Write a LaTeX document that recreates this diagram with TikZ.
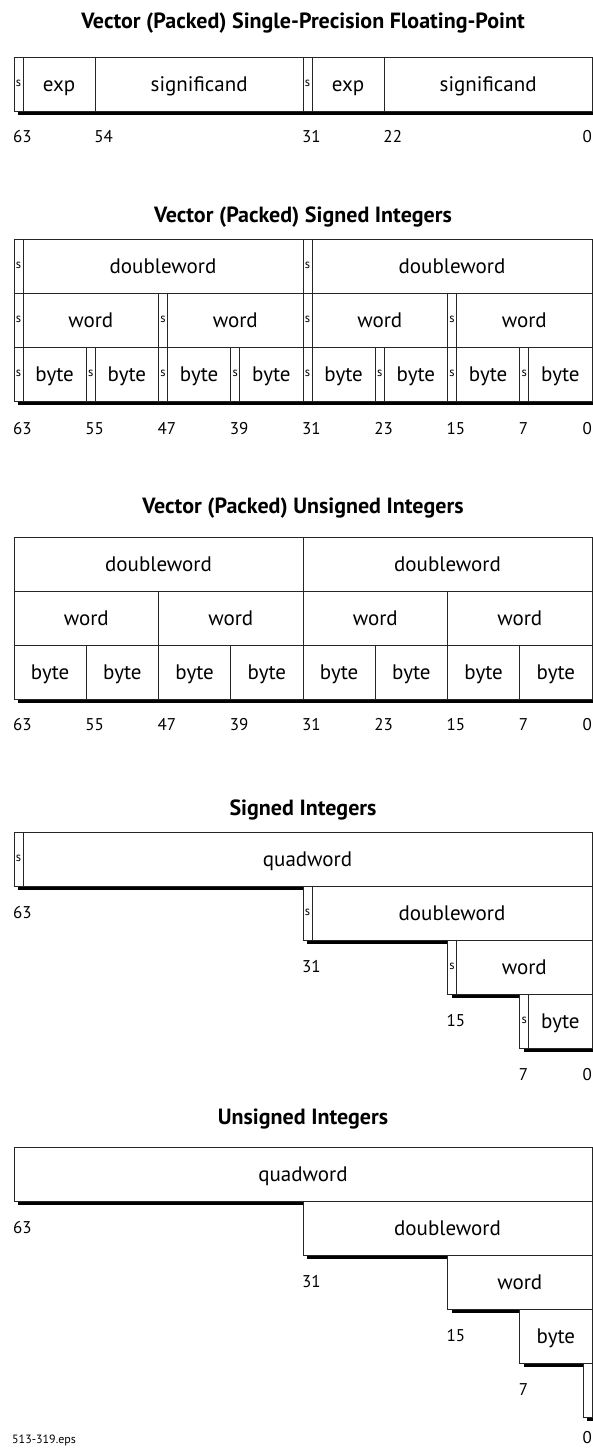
\documentclass[tikz,border=0pt]{standalone}
\usepackage{fontspec}
\setmainfont{PT Sans}
% left edge of bit b; bx(-1) is the right edge of bit 0
\pgfmathdeclarefunction{bx}{1}{\pgfmathparse{14+(63-#1)*9.03125}}
\tikzset{
  cell/.style={draw=black!85, line width=1pt, fill=white},
  rule/.style={draw=black!85, line width=1pt},
  dropsh/.style={fill=black},
  ttl/.style={font=\bfseries\fontsize{22}{22}\selectfont, anchor=base},
  lbl/.style={font=\fontsize{21}{21}\selectfont, anchor=base, inner sep=0pt},
  num/.style={font=\fontsize{17}{17}\selectfont, anchor=base west, inner sep=0pt},
  numr/.style={font=\fontsize{17}{17}\selectfont, anchor=base east, inner sep=0pt},
  sbit/.style={font=\fontsize{12.5}{12.5}\selectfont, inner sep=0pt},
  note/.style={font=\fontsize{12}{12}\selectfont, anchor=base west, inner sep=0pt}
}
% box with its drop shadow: x1, y1, x2, y2
\newcommand\regbox[4]{%
  \fill[dropsh] ({#1+4},{#2+4}) rectangle ({#3+4},{#4+4});
  \draw[cell] (#1,#2) rectangle (#3,#4);}
% field text centred between bit hi and bit lo, row top y
\newcommand\fieldtext[5]{\node[lbl] (#1) at ({(bx(#2)+bx(#3-1))/2},{#4+34}) {#5};}
% sign bit marker in the one-bit column of bit b, row top y
\newcommand\sbitat[3]{\node[sbit] (#1) at ({bx(#2)+4.5},{#3+26}) {s};}
% bit number left-aligned under the edge of bit b
\newcommand\bitnum[4]{\node[num] (#1) at ({bx(#2)-1},#3) {#4};}
\begin{document}
\begin{tikzpicture}[x=1pt,y=-1pt]
\useasboundingbox (0,0) rectangle (593,1448);

% ---------- packed single-precision floating point ----------
\node[ttl] (fpT) at (303,28) {Vector (Packed) Single-Precision Floating-Point};
\regbox{14}{57}{592.06}{111}
\foreach \b in {62,54,31,30,22} {\draw[rule] ({bx(\b)},57) -- ({bx(\b)},111);}
\sbitat{fpS1}{63}{57}
\fieldtext{fpE1}{62}{55}{57}{exp}
\fieldtext{fpM1}{54}{32}{57}{significand}
\sbitat{fpS2}{31}{57}
\fieldtext{fpE2}{30}{23}{57}{exp}
\fieldtext{fpM2}{22}{0}{57}{significand}
\bitnum{fpN63}{63}{142}{63}
\bitnum{fpN54}{54}{142}{54}
\bitnum{fpN31}{31}{142}{31}
\bitnum{fpN22}{22}{142}{22}
\node[numr] (fpN0) at (592,142) {0};

% ---------- packed signed integers ----------
\node[ttl] (psT) at (303,222) {Vector (Packed) Signed Integers};
\regbox{14}{239}{592.06}{401}
\draw[rule] (14,293) -- (592.06,293);
\draw[rule] (14,347) -- (592.06,347);
\foreach \b in {62,31,30} {\draw[rule] ({bx(\b)},239) -- ({bx(\b)},293);}
\foreach \b in {62,47,46,31,30,15,14} {\draw[rule] ({bx(\b)},293) -- ({bx(\b)},347);}
\foreach \b in {62,55,54,47,46,39,38,31,30,23,22,15,14,7,6} {\draw[rule] ({bx(\b)},347) -- ({bx(\b)},401);}
\foreach \h/\l [count=\i] in {63/32,31/0} {
  \sbitat{psDS\i}{\h}{239}
  \fieldtext{psD\i}{\h-1}{\l}{239}{doubleword}
}
\foreach \h/\l [count=\i] in {63/48,47/32,31/16,15/0} {
  \sbitat{psWS\i}{\h}{293}
  \fieldtext{psW\i}{\h-1}{\l}{293}{word}
}
\foreach \h/\l [count=\i] in {63/56,55/48,47/40,39/32,31/24,23/16,15/8,7/0} {
  \sbitat{psBS\i}{\h}{347}
  \fieldtext{psB\i}{\h-1}{\l}{347}{byte}
}
\foreach \b in {63,55,47,39,31,23,15,7} {\bitnum{psN\b}{\b}{434}{\b}}
\node[numr] (psN0) at (592,434) {0};

% ---------- packed unsigned integers ----------
\node[ttl] (puT) at (303,513) {Vector (Packed) Unsigned Integers};
\regbox{14}{537}{592.06}{699}
\draw[rule] (14,591) -- (592.06,591);
\draw[rule] (14,645) -- (592.06,645);
\draw[rule] ({bx(31)},537) -- ({bx(31)},591);
\foreach \b in {47,31,15} {\draw[rule] ({bx(\b)},591) -- ({bx(\b)},645);}
\foreach \b in {55,47,39,31,23,15,7} {\draw[rule] ({bx(\b)},645) -- ({bx(\b)},699);}
\foreach \h/\l [count=\i] in {63/32,31/0} {
  \fieldtext{puD\i}{\h}{\l}{537}{doubleword}
}
\foreach \h/\l [count=\i] in {63/48,47/32,31/16,15/0} {
  \fieldtext{puW\i}{\h}{\l}{591}{word}
}
\foreach \h/\l [count=\i] in {63/56,55/48,47/40,39/32,31/24,23/16,15/8,7/0} {
  \fieldtext{puB\i}{\h}{\l}{645}{byte}
}
\foreach \b in {63,55,47,39,31,23,15,7} {\bitnum{puN\b}{\b}{730}{\b}}
\node[numr] (puN0) at (592,730) {0};

% ---------- signed integers ----------
\node[ttl] (siT) at (303,815) {Signed Integers};
\regbox{14}{832}{592.06}{886}
\draw[rule] ({bx(62)},832) -- ({bx(62)},886);
\sbitat{siQS}{63}{832}
\fieldtext{siQ}{62}{0}{832}{quadword}
\bitnum{siN63}{63}{918}{63}
\regbox{303}{886}{592.06}{940}
\draw[rule] ({bx(30)},886) -- ({bx(30)},940);
\sbitat{siDS}{31}{886}
\fieldtext{siD}{30}{0}{886}{doubleword}
\bitnum{siN31}{31}{972}{31}
\regbox{447.5}{940}{592.06}{994}
\draw[rule] ({bx(14)},940) -- ({bx(14)},994);
\sbitat{siWS}{15}{940}
\fieldtext{siW}{14}{0}{940}{word}
\bitnum{siN15}{15}{1026}{15}
\regbox{519.75}{994}{592.06}{1048}
\draw[rule] ({bx(6)},994) -- ({bx(6)},1048);
\sbitat{siBS}{7}{994}
\fieldtext{siB}{6}{0}{994}{byte}
\bitnum{siN7}{7}{1080}{7}
\node[numr] (siN0) at (592,1080) {0};

% ---------- unsigned integers ----------
\node[ttl] (uiT) at (303,1124) {Unsigned Integers};
\regbox{14}{1147}{592.06}{1201}
\fieldtext{uiQ}{63}{0}{1147}{quadword}
\bitnum{uiN63}{63}{1233}{63}
\regbox{303}{1201}{592.06}{1255}
\fieldtext{uiD}{31}{0}{1201}{doubleword}
\bitnum{uiN31}{31}{1287}{31}
\regbox{447.5}{1255}{592.06}{1309}
\fieldtext{uiW}{15}{0}{1255}{word}
\bitnum{uiN15}{15}{1341}{15}
\regbox{519.75}{1309}{592.06}{1363}
\fieldtext{uiB}{7}{0}{1309}{byte}
\bitnum{uiN7}{7}{1395}{7}
\regbox{583.03}{1363}{592.06}{1417}
\node[numr] (uiN0) at (592,1443) {0};
\node[note] (fileTag) at (12,1443) {513-319.eps};
\end{tikzpicture}
\end{document}
